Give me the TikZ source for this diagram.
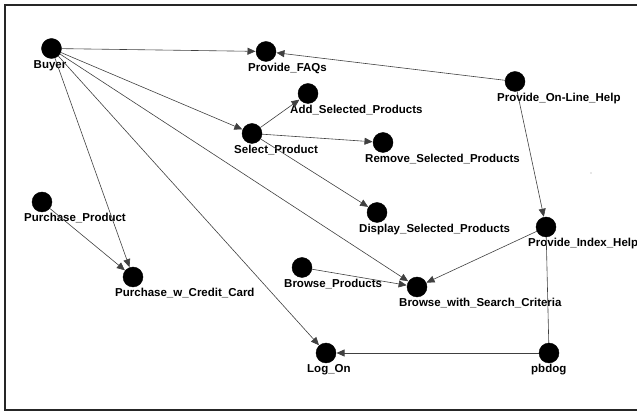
\documentclass[tikz,border=0pt]{standalone}
\usepackage{fontspec}
\setmainfont{Liberation Sans}
\usetikzlibrary{arrows.meta}
\begin{document}
\begin{tikzpicture}[x=1pt,y=-1pt,
  uc/.style={circle,fill=black,draw=black,minimum size=20pt,inner sep=0pt},
  ucname/.style={anchor=base west,inner sep=0pt,font=\fontsize{11.5}{13}\selectfont\bfseries},
  link/.style={draw=black!75,line width=0.6pt,-{Triangle[length=8pt,width=7pt]},shorten >=0.3pt},
  plain/.style={draw=black!75,line width=0.6pt},
  frame/.style={draw=black!85,line width=1.6pt}]
\useasboundingbox (0,0) rectangle (637,411);
\draw[frame] (650,5) -- (5,5) -- (5,410) -- (650,410);

% use cases (actors shown the same way)
\node[uc] (buyer)   at (51.5,48.5) {};
\node[uc] (faqs)    at (266,51.5) {};
\node[uc] (add)     at (308,93.5) {};
\node[uc] (select)  at (252,133.5) {};
\node[uc] (remove)  at (383,142.5) {};
\node[uc] (online)  at (515,81.5) {};
\node[uc] (display) at (377,212.5) {};
\node[uc] (index)   at (546,227) {};
\node[uc] (pprod)   at (42,202) {};
\node[uc] (pwcc)    at (133,277) {};
\node[uc] (bprod)   at (302,267.5) {};
\node[uc] (bwsc)    at (417,287) {};
\node[uc] (logon)   at (326,353) {};
\node[uc] (pbdog)   at (549,353) {};

% names under the circles
\node[ucname] (buyerL)   at (33.5,68.5)  {Buyer};
\node[ucname] (faqsL)    at (248,71.5)   {Provide\_FAQs};
\node[ucname] (addL)     at (290,113.5)  {Add\_Selected\_Products};
\node[ucname] (selectL)  at (234,153.5)  {Select\_Product};
\node[ucname] (removeL)  at (365,162.5)  {Remove\_Selected\_Products};
\node[ucname] (onlineL)  at (497,101.5)  {Provide\_On-Line\_Help};
\node[ucname] (displayL) at (359,232.5)  {Display\_Selected\_Products};
\node[ucname] (indexL)   at (528,247)    {Provide\_Index\_Help};
\node[ucname] (pprodL)   at (24,222)     {Purchase\_Product};
\node[ucname] (pwccL)    at (115,297)    {Purchase\_w\_Credit\_Card};
\node[ucname] (bprodL)   at (284,287.5)  {Browse\_Products};
\node[ucname] (bwscL)    at (399,307)    {Browse\_with\_Search\_Criteria};
\node[ucname] (logonL)   at (307,373)    {Log\_On};
\node[ucname] (pbdogL)   at (531,373)    {pbdog};

% associations
\draw[link] (buyer) -- (faqs);
\draw[link] (online) -- (faqs);
\draw[link] (buyer) -- (select);
\draw[link] (select) -- (add);
\draw[link] (select) -- (remove);
\draw[link] (select) -- (display);
\draw[link] (buyer) -- (pwcc);
\draw[link] (pprod) -- (pwcc);
\draw[link] (buyer) -- (logon);
\draw[link] (buyer) -- (bwsc);
\draw[link] (bprod) -- (bwsc);
\draw[link] (index) -- (bwsc);
\draw[link] (online) -- (index);
\draw[link] (pbdog) -- (logon);
\draw[plain] (pbdog) -- (index);

% stray speck
\fill[black!40] (591,173) circle (0.6);
\end{tikzpicture}
\end{document}
